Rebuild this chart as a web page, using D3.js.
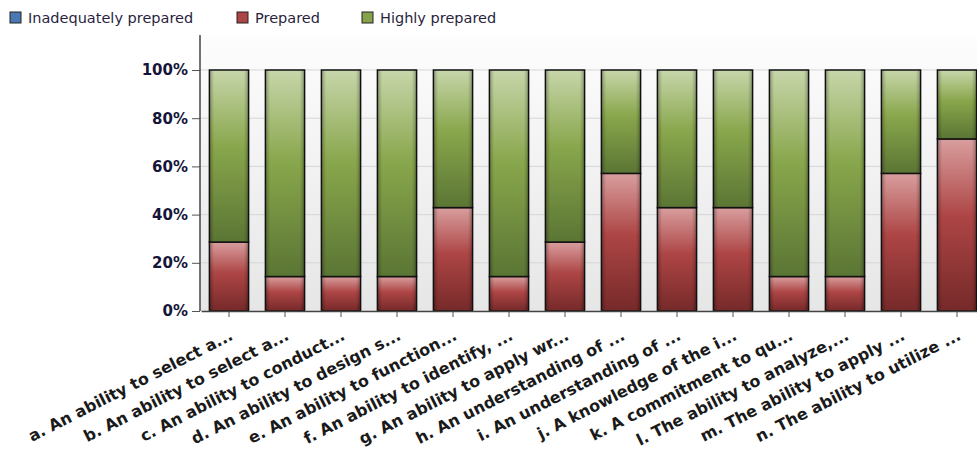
<!DOCTYPE html>
<html>
<head>
<meta charset="utf-8">
<script src="https://cdn.jsdelivr.net/npm/d3@7"></script>
<style>
  body { margin: 0; background: #fff; }
  svg { display: block; }
</style>
</head>
<body>
<div id="chart"></div>
<script>
// data (7 respondents -> steps of 1/7)
const categories = [
  "a. An ability to select a...",
  "b. An ability to select a...",
  "c. An ability to conduct...",
  "d. An ability to design s...",
  "e. An ability to function...",
  "f. An ability to identify, ...",
  "g. An ability to apply wr...",
  "h. An understanding of ...",
  "i. An understanding of ...",
  "j. A knowledge of the i...",
  "k. A commitment to qu...",
  "l. The ability to analyze,...",
  "m. The ability to apply ...",
  "n. The ability to utilize ..."
];
const seriesNames = ["Inadequately prepared", "Prepared", "Highly prepared"];
const inadequate = [0, 0, 0, 0, 0, 0, 0, 0, 0, 0, 0, 0, 0, 0];
const prepared   = [28.6, 14.3, 14.3, 14.3, 42.9, 14.3, 28.6, 57.1, 42.9, 42.9, 14.3, 14.3, 57.1, 71.4];
const highly     = [71.4, 85.7, 85.7, 85.7, 57.1, 85.7, 71.4, 42.9, 57.1, 57.1, 85.7, 85.7, 42.9, 28.6];
const yTicks = [0, 20, 40, 60, 80, 100];

const W = 977, H = 455;
const margin = {left: 200, top: 35, bottom: 144};
const plotRight = 985;

const svg = d3.select('#chart').append('svg')
    .attr('width', W)
    .attr('height', H);

const defs = svg.append('defs');

function vGrad(id, stops) {
  let g = defs.append('linearGradient')
      .attr('id', id)
      .attr('x1', 0).attr('y1', 0).attr('x2', 0).attr('y2', 1);
  stops.forEach(function (s) {
    g.append('stop').attr('offset', s[0]).attr('stop-color', s[1]);
  });
}
vGrad('bg', [[0, '#fdfdfd'], [1, '#e6e6e6']]);
vGrad('g0', [[0, '#a9c2e4'], [0.45, '#4f7fbf'], [1, '#2e5688']]);
vGrad('g1', [[0, '#d99e9e'], [0.45, '#ad4545'], [1, '#762929']]);
vGrad('g2', [[0, '#c7d6aa'], [0.45, '#88a64b'], [1, '#5b7534']]);

let edge = defs.append('linearGradient')
    .attr('id', 'edge')
    .attr('x1', 0).attr('y1', 0).attr('x2', 1).attr('y2', 0);
[[0, 0.28], [0.12, 0], [0.88, 0], [1, 0.28]].forEach(function (s) {
  edge.append('stop').attr('offset', s[0])
      .attr('stop-color', '#000').attr('stop-opacity', s[1]);
});

const legendColors = ['#4a78b3', '#ac4545', '#86a24a'];

const x = d3.scaleBand()
    .domain(categories)
    .range([margin.left + 1, plotRight])
    .paddingInner(0.3)
    .paddingOuter(0.15);

const y = d3.scaleLinear()
    .domain([0, 100])
    .range([H - margin.bottom, 70]);

const y0 = y(0);

// plot background
svg.append('rect')
    .attr('x', margin.left)
    .attr('y', margin.top)
    .attr('width', plotRight - margin.left)
    .attr('height', y0 - margin.top)
    .attr('fill', 'url(#bg)');

// gridlines
svg.append('g')
    .selectAll('line')
    .data(yTicks.filter(function (d) { return d > 0; }))
    .enter()
    .append('line')
    .attr('x1', margin.left)
    .attr('x2', plotRight)
    .attr('y1', function (d) { return y(d); })
    .attr('y2', function (d) { return y(d); })
    .attr('stroke', '#d6d6d6')
    .attr('stroke-width', 1);

// stacked bars
const rows = categories.map(function (c, i) {
  return {name: c, s0: inadequate[i], s1: prepared[i], s2: highly[i]};
});
const stack = d3.stack().keys(['s0', 's1', 's2']);
const layers = stack(rows);

layers.forEach(function (layer, li) {
  let g = svg.append('g').attr('class', 'layer-' + li);
  let segs = g.selectAll('g.seg')
      .data(layer.filter(function (d) { return d[1] - d[0] > 0; }))
      .enter()
      .append('g')
      .attr('class', 'seg');
  segs.append('rect')
      .attr('x', function (d) { return x(d.data.name); })
      .attr('y', function (d) { return y(d[1]); })
      .attr('width', x.bandwidth())
      .attr('height', function (d) { return y(d[0]) - y(d[1]); })
      .attr('fill', 'url(#g' + li + ')');
  segs.append('rect')
      .attr('x', function (d) { return x(d.data.name); })
      .attr('y', function (d) { return y(d[1]); })
      .attr('width', x.bandwidth())
      .attr('height', function (d) { return y(d[0]) - y(d[1]); })
      .attr('fill', 'url(#edge)')
      .attr('stroke', '#111')
      .attr('stroke-width', 1.5);
});

// axes
const yAxis = svg.append('g')
    .attr('transform', 'translate(' + margin.left + ',0)')
    .call(d3.axisLeft(y).tickValues(yTicks).tickSize(8).tickFormat(function (d) { return d + '%'; }));
yAxis.select('.domain').remove();
yAxis.selectAll('.tick line').attr('stroke', '#555');
yAxis.selectAll('text')
    .attr('x', -12)
    .style('font-family', '"DejaVu Sans", Verdana, sans-serif')
    .style('font-size', '15px')
    .style('font-weight', 'bold')
    .attr('fill', '#15153a');

svg.append('line')
    .attr('x1', margin.left).attr('x2', margin.left)
    .attr('y1', margin.top).attr('y2', y0)
    .attr('stroke', '#444').attr('stroke-width', 1.5);

const xAxis = svg.append('g')
    .attr('transform', 'translate(0,' + y0 + ')')
    .call(d3.axisBottom(x).tickSize(6).tickSizeOuter(0));
xAxis.select('.domain').attr('stroke', '#444').attr('stroke-width', 1.5);
xAxis.selectAll('.tick line').attr('stroke', '#555');
xAxis.selectAll('text')
    .style('font-family', '"DejaVu Sans", Verdana, sans-serif')
    .style('font-size', '16px')
    .style('font-weight', 'bold')
    .attr('fill', '#1a1a1a')
    .attr('text-anchor', 'end')
    .attr('dy', 0)
    .attr('y', 0)
    .attr('transform', 'translate(5,28) rotate(-27)');

// legend
const legendX = [10, 237, 362];
const legend = svg.append('g')
    .selectAll('g')
    .data(seriesNames)
    .enter()
    .append('g')
    .attr('transform', function (d, i) { return 'translate(' + legendX[i] + ',12)'; });
legend.append('rect')
    .attr('width', 11).attr('height', 11)
    .attr('fill', function (d, i) { return legendColors[i]; })
    .attr('stroke', '#222').attr('stroke-width', 1);
legend.append('text')
    .attr('x', 18)
    .attr('y', 11)
    .style('font-family', '"DejaVu Sans", Verdana, sans-serif')
    .style('font-size', '14.5px')
    .attr('fill', '#2a1f3d')
    .text(function (d) { return d; });
</script>
</body>
</html>
